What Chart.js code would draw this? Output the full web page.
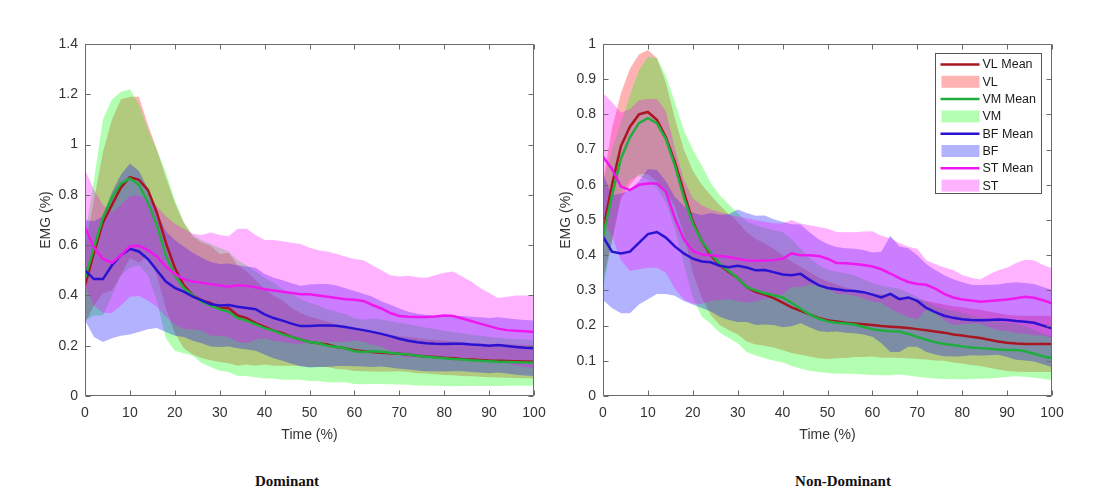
<!DOCTYPE html>
<html>
<head>
<meta charset="utf-8">
<script src="https://cdn.jsdelivr.net/npm/chart.js@4.4.1/dist/chart.umd.min.js"></script>
<style>
  html, body { margin: 0; padding: 0; background: #ffffff; }
  body { width: 1112px; height: 491px; position: relative; overflow: hidden; }
  canvas { position: absolute; top: 0; }
  #dominant { left: 0; }
  #nonDominant { left: 556px; }
  .caption {
    position: absolute; top: 473px; line-height: 17px;
    font: bold 15px "Liberation Serif", "Times New Roman", serif;
    color: #111; transform: translateX(-50%); white-space: nowrap;
  }
</style>
</head>
<body>
<canvas id="dominant" width="556" height="450"></canvas>
<canvas id="nonDominant" width="556" height="450"></canvas>
<div class="caption" style="left:287px">Dominant</div>
<div class="caption" style="left:843px">Non-Dominant</div>

<script>
// ---- data: normalised time (% of cycle) and EMG mean / SD per muscle ----
const time = [0,2,4,6,8,10,12,14,16,18,20,22,24,26,28,30,32,34,36,38,40,42,44,46,48,50,
              52,54,56,58,60,62,64,66,68,70,72,74,76,78,80,82,84,86,88,90,92,94,96,98,100];

const xTicks = [0,10,20,30,40,50,60,70,80,90,100];
const yTicksDominant = [0,0.2,0.4,0.6,0.8,1,1.2,1.4];
const yTicksNonDominant = [0,0.1,0.2,0.3,0.4,0.5,0.6,0.7,0.8,0.9,1];

const muscles = ['VL','VM','BF','ST'];
const legendLabels = ['VL Mean','VL','VM Mean','VM','BF Mean','BF','ST Mean','ST'];

// Dominant limb
const domVLMean = [.44,.57,.69,.76,.83,.87,.86,.82,.73,.61,.51,.44,.40,.38,.37,.35,.35,.32,.31,.29,
  .275,.26,.25,.235,.225,.215,.21,.205,.195,.19,.182,.178,.175,.172,.17,.168,.165,.16,.157,.155,
  .152,.15,.147,.145,.143,.141,.14,.139,.138,.137,.136];
const domVLSD = [.15,.21,.28,.34,.35,.32,.33,.26,.25,.26,.26,.25,.235,.23,.228,.215,.22,.20,.185,.17,
  .15,.14,.13,.115,.105,.10,.095,.09,.088,.085,.083,.08,.078,.076,.073,.07,.07,.07,.068,.068,
  .068,.067,.067,.066,.066,.066,.066,.066,.066,.066,.066];
const domVMMean = [.47,.59,.71,.79,.845,.865,.84,.77,.68,.56,.48,.43,.40,.375,.36,.345,.335,.31,.30,.285,
  .27,.26,.245,.235,.225,.215,.21,.20,.195,.19,.178,.175,.178,.176,.172,.168,.165,.16,.156,.153,
  .15,.147,.145,.142,.14,.138,.136,.135,.134,.133,.132];
const domVMSD = [.17,.27,.39,.39,.365,.355,.32,.29,.30,.33,.30,.26,.24,.245,.245,.245,.24,.23,.22,.21,
  .20,.19,.18,.17,.16,.155,.15,.145,.14,.135,.13,.128,.13,.128,.125,.122,.12,.118,.115,.112,
  .11,.108,.105,.102,.10,.098,.096,.094,.093,.092,.09];
const domBFMean = [.50,.465,.465,.52,.56,.585,.575,.545,.50,.455,.43,.415,.395,.38,.365,.36,.362,.355,.35,.345,
  .325,.31,.30,.288,.278,.278,.28,.28,.279,.274,.268,.262,.255,.247,.238,.228,.22,.214,.21,.208,
  .207,.208,.208,.205,.203,.20,.203,.199,.195,.192,.19];
const domBFSD = [.20,.23,.25,.29,.32,.34,.32,.28,.23,.20,.19,.18,.175,.17,.168,.165,.165,.165,.165,.165,
  .16,.16,.16,.16,.16,.165,.165,.165,.16,.155,.15,.145,.14,.13,.125,.12,.115,.113,.112,.11,
  .11,.11,.11,.11,.11,.11,.11,.11,.11,.11,.11];
const domSTMean = [.67,.59,.545,.53,.56,.595,.598,.58,.555,.515,.485,.465,.455,.45,.445,.44,.435,.44,.438,.432,
  .425,.42,.415,.41,.405,.405,.40,.395,.39,.385,.383,.378,.362,.348,.33,.318,.315,.314,.314,.316,
  .32,.318,.308,.298,.288,.278,.268,.262,.26,.258,.255];
const domSTSD = [.23,.23,.215,.20,.20,.20,.20,.20,.20,.20,.20,.20,.19,.19,.205,.20,.20,.225,.227,.208,
  .195,.20,.20,.20,.20,.185,.18,.18,.175,.17,.162,.162,.158,.152,.15,.157,.163,.158,.156,.164,
  .17,.177,.167,.157,.142,.132,.122,.133,.14,.142,.145];

// Non-dominant limb
const ndVLMean = [.47,.60,.71,.765,.80,.807,.785,.735,.665,.58,.495,.44,.40,.372,.352,.335,.31,.296,.288,.278,
  .265,.252,.242,.232,.222,.215,.212,.208,.206,.204,.202,.199,.197,.195,.193,.19,.187,.183,.18,.175,
  .172,.168,.165,.16,.155,.151,.149,.148,.148,.148,.148];
const ndVLSD = [.14,.16,.15,.165,.17,.176,.175,.155,.125,.12,.145,.16,.17,.17,.165,.16,.155,.15,.145,.14,
  .135,.13,.125,.12,.115,.11,.105,.10,.095,.093,.09,.09,.088,.087,.086,.085,.083,.082,.08,.08,
  .08,.08,.08,.08,.08,.08,.08,.08,.08,.08,.08];
const ndVMMean = [.453,.57,.675,.735,.775,.789,.775,.73,.655,.565,.49,.44,.405,.375,.355,.335,.31,.30,.292,.286,
  .28,.265,.248,.232,.22,.212,.208,.206,.203,.196,.19,.186,.184,.183,.176,.168,.16,.153,.148,.145,
  .141,.138,.136,.134,.132,.131,.131,.127,.12,.113,.107];
const ndVMSD = [.15,.13,.10,.12,.15,.175,.185,.18,.18,.19,.21,.215,.20,.195,.19,.185,.185,.185,.185,.185,
  .185,.18,.17,.16,.152,.147,.145,.143,.14,.135,.13,.127,.125,.122,.118,.113,.108,.103,.10,.097,
  .094,.09,.087,.084,.08,.077,.075,.072,.068,.064,.062];
const ndBFMean = [.453,.41,.405,.41,.435,.46,.466,.45,.425,.405,.39,.382,.38,.37,.366,.37,.365,.357,.358,.352,
  .345,.343,.347,.33,.315,.307,.303,.30,.298,.295,.288,.28,.29,.275,.28,.27,.25,.238,.228,.222,
  .218,.216,.215,.216,.217,.216,.213,.211,.208,.20,.192];
const ndBFSD = [.18,.16,.17,.175,.175,.185,.176,.16,.14,.135,.13,.132,.14,.145,.15,.16,.155,.155,.155,.15,
  .15,.145,.14,.135,.13,.125,.12,.12,.12,.12,.12,.13,.165,.15,.14,.13,.125,.12,.115,.11,
  .105,.10,.10,.10,.10,.105,.11,.11,.11,.11,.11];
const ndSTMean = [.68,.645,.595,.585,.60,.604,.604,.58,.505,.445,.412,.402,.40,.398,.395,.39,.385,.384,.385,.386,
  .39,.405,.40,.40,.398,.39,.378,.377,.375,.372,.368,.36,.348,.335,.324,.318,.316,.305,.29,.28,
  .274,.271,.268,.27,.272,.274,.278,.282,.279,.272,.263];
const ndSTSD = [.18,.19,.21,.23,.24,.24,.24,.23,.20,.17,.15,.14,.13,.125,.12,.12,.12,.115,.11,.105,
  .10,.095,.09,.085,.082,.085,.088,.088,.09,.095,.10,.095,.10,.10,.10,.10,.07,.07,.075,.078,
  .07,.065,.063,.075,.085,.09,.10,.105,.107,.10,.10];

// ---- styling ----
const lineColors = { VL: '#a8171f', VM: '#1fae3e', BF: '#2a12d2', ST: '#ee18ee' };
const bandColors = {
  VL: 'rgba(255,0,0,0.3)', VM: 'rgba(0,255,0,0.3)',
  BF: 'rgba(0,0,255,0.3)', ST: 'rgba(255,0,255,0.3)'
};
const axisFont = { family: '"Liberation Sans", Arial, Helvetica, sans-serif', size: 14 };
const textColor = '#333333';

function points(values, offsets, sign) {
  return time.map((t, i) => ({ x: t, y: values[i] + (offsets ? sign * offsets[i] : 0) }));
}

function buildDatasets(means, sds) {
  const sets = [];
  // SD bands: lower edge, then upper edge filled down to it.
  // Bands are layered VL (bottom) -> ST (top); mean lines sit above all bands.
  muscles.forEach((m, k) => {
    sets.push({ label: m + ' lower', data: points(means[m], sds[m], -1),
      borderWidth: 0, pointRadius: 0, fill: false, order: 30 - k });
    sets.push({ label: m, data: points(means[m], sds[m], 1),
      borderWidth: 0, pointRadius: 0, fill: '-1', backgroundColor: bandColors[m], order: 30 - k });
  });
  muscles.forEach((m, k) => {
    sets.push({ label: m + ' Mean', data: points(means[m]),
      borderColor: lineColors[m], borderWidth: 2.5, pointRadius: 0, fill: false,
      tension: 0, order: 4 - k });
  });
  return sets;
}

// Boxed axes with inward tick marks on all four sides
const boxAxes = {
  id: 'boxAxes',
  afterDatasetsDraw(chart) {
    const { ctx, chartArea: a, scales: { x, y } } = chart;
    const L = Math.round(a.left) + 0.5, R = Math.round(a.right) - 0.5;
    const T = Math.round(a.top) + 0.5, B = Math.round(a.bottom) - 0.5;
    const len = 5;
    ctx.save();
    ctx.strokeStyle = '#6a6a6a';
    ctx.lineWidth = 1;
    ctx.beginPath();
    ctx.rect(L, T, R - L, B - T);
    x.ticks.forEach(t => {
      const px = Math.round(x.getPixelForValue(t.value)) + 0.5;
      ctx.moveTo(px, B); ctx.lineTo(px, B - len);
      ctx.moveTo(px, T); ctx.lineTo(px, T + len);
    });
    y.ticks.forEach(t => {
      const py = Math.round(y.getPixelForValue(t.value)) + 0.5;
      ctx.moveTo(L, py); ctx.lineTo(L + len, py);
      ctx.moveTo(R, py); ctx.lineTo(R - len, py);
    });
    ctx.stroke();
    ctx.restore();
  }
};

// Boxed legend in the upper right corner of the plot
const boxLegend = {
  id: 'boxLegend',
  afterDraw(chart, args, opts) {
    if (!opts.show) return;
    const { ctx, chartArea: a } = chart;
    const w = 106, h = 140, row = 17.3;
    const left = Math.round(a.right - 11 - w) + 0.5, top = Math.round(a.top + 9) + 0.5;
    ctx.save();
    ctx.fillStyle = '#ffffff';
    ctx.fillRect(left, top, w, h);
    ctx.strokeStyle = '#555555';
    ctx.lineWidth = 1;
    ctx.strokeRect(left, top, w, h);
    ctx.font = '12.5px "Liberation Sans", Arial, sans-serif';
    ctx.textBaseline = 'middle';
    ctx.textAlign = 'left';
    legendLabels.forEach((label, i) => {
      const m = muscles[Math.floor(i / 2)];
      const cy = top + 11 + i * row;
      if (i % 2 === 0) {
        ctx.strokeStyle = lineColors[m];
        ctx.lineWidth = 2.5;
        ctx.beginPath();
        ctx.moveTo(left + 5, cy); ctx.lineTo(left + 44, cy);
        ctx.stroke();
      } else {
        ctx.fillStyle = bandColors[m];
        ctx.fillRect(left + 6, cy - 6, 38, 12);
      }
      ctx.fillStyle = '#1a1a1a';
      ctx.fillText(label, left + 47, cy + 0.5);
    });
    ctx.restore();
  }
};

function makeChart(id, means, sds, yMax, yTicks, yAxisWidth, rightPad, yTitlePad, showLegend) {
  return new Chart(document.getElementById(id), {
    type: 'line',
    data: { datasets: buildDatasets(means, sds) },
    plugins: [boxAxes, boxLegend],
    options: {
      responsive: false,
      animation: false,
      devicePixelRatio: 1,
      layout: { padding: { left: 0, top: 44, right: rightPad, bottom: 0 } },
      plugins: {
        legend: { display: false },
        tooltip: { enabled: false },
        filler: { drawTime: 'beforeDatasetsDraw', propagate: false },
        boxLegend: { show: showLegend }
      },
      scales: {
        x: {
          type: 'linear', min: 0, max: 100,
          afterBuildTicks: s => { s.ticks = xTicks.map(v => ({ value: v })); },
          afterFit: s => { s.height = 54; },
          grid: { display: false, drawTicks: false },
          border: { display: false },
          ticks: { font: axisFont, color: textColor, padding: 9, maxRotation: 0,
                   callback: v => String(v) },
          title: { display: true, text: 'Time (%)', font: axisFont, color: textColor,
                   padding: { top: 0, bottom: 6 } }
        },
        y: {
          type: 'linear', min: 0, max: yMax,
          afterBuildTicks: s => { s.ticks = yTicks.map(v => ({ value: v })); },
          afterFit: s => { s.width = yAxisWidth; },
          grid: { display: false, drawTicks: false },
          border: { display: false },
          ticks: { font: axisFont, color: textColor, padding: 7,
                   callback: v => String(parseFloat(Number(v).toFixed(2))) },
          title: { display: true, text: 'EMG (%)', font: axisFont, color: textColor,
                   padding: { top: yTitlePad, bottom: 0 } }
        }
      }
    }
  });
}

makeChart('dominant',
  { VL: domVLMean, VM: domVMMean, BF: domBFMean, ST: domSTMean },
  { VL: domVLSD, VM: domVMSD, BF: domBFSD, ST: domSTSD },
  1.4, yTicksDominant, 85, 22, 38, false);

makeChart('nonDominant',
  { VL: ndVLMean, VM: ndVMMean, BF: ndBFMean, ST: ndSTMean },
  { VL: ndVLSD, VM: ndVMSD, BF: ndBFSD, ST: ndSTSD },
  1, yTicksNonDominant, 47, 60, 2, true);
</script>
</body>
</html>
